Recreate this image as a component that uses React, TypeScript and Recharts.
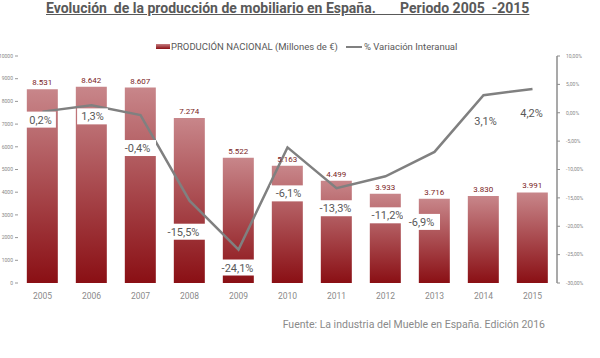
import {
  Bar,
  ComposedChart,
  LabelList,
  Line,
  XAxis,
  YAxis,
} from "recharts";

const years = [
  "2005", "2006", "2007", "2008", "2009", "2010",
  "2011", "2012", "2013", "2014", "2015",
];
const production = [8531, 8642, 8607, 7274, 5522, 5163, 4499, 3933, 3716, 3830, 3991];
const variation = [0.2, 1.3, -0.4, -15.5, -24.1, -6.1, -13.3, -11.2, -6.9, 3.1, 4.2];
const leftTicks = [0, 1000, 2000, 3000, 4000, 5000, 6000, 7000, 8000, 9000, 10000];
const rightTicks = [-30, -25, -20, -15, -10, -5, 0, 5, 10];

// where Excel put each % label, relative to its point
const pctLabelShift = [
  [-2, 8], [1, 11], [-3, 33], [-6, 31], [-1, 18], [1, 46],
  [-1, 20], [2, 39], [-13, 70], [2, 26], [-1, 24],
];

const data = years.map((year, i) => ({
  year,
  production: production[i],
  variation: variation[i],
}));

const GREY = "#595959";
const FONT = "Roboto, 'Open Sans', sans-serif";

const fmtThousands = (v: number) =>
  String(v).replace(/\B(?=(\d{3})+(?!\d))/g, ".");
const fmtPct = (v: number) => `${v.toFixed(1).replace(".", ",")}%`;

function PctLabel(props: any) {
  const { x, y, value, index } = props;
  const [dx, dy] = pctLabelShift[index] || [0, 0];
  const text = fmtPct(value);
  const w = text.length * 6.2 + 6;
  const cx = x + dx;
  const cy = y + dy;
  return (
    <g>
      <rect x={cx - w / 2} y={cy - 8} width={w} height={16} fill="#fff" />
      <text
        x={cx}
        y={cy}
        dy={4}
        textAnchor="middle"
        fontSize={11}
        fill={GREY}
        fontFamily={FONT}
      >
        {text}
      </text>
    </g>
  );
}

export default function App() {
  return (
    <div
      style={{
        position: "relative",
        width: 600,
        height: 358,
        background: "#fff",
        fontFamily: FONT,
        overflow: "hidden",
      }}
    >
      <style>{`body{margin:0}`}</style>

      {/* Title */}
      <div
        style={{
          position: "absolute",
          left: 46,
          top: 0,
          fontSize: 14,
          fontWeight: 700,
          color: GREY,
          textDecoration: "underline",
          whiteSpace: "pre",
        }}
      >
        {"Evolución  de la producción de mobiliario en España.       Periodo 2005  -2015"}
      </div>

      {/* Legend */}
      <div
        style={{
          position: "absolute",
          top: 41,
          left: 156,
          display: "flex",
          alignItems: "center",
          fontSize: 9.5,
          color: GREY,
          whiteSpace: "pre",
        }}
      >
        <span
          style={{
            display: "inline-block",
            width: 14,
            height: 5,
            background: "linear-gradient(#c57d80, #8a0f14)",
            marginRight: 1,
          }}
        />
        <span>PRODUCIÓN NACIONAL (Millones de €)</span>
        <span
          style={{
            display: "inline-block",
            width: 16,
            height: 2,
            background: "#808080",
            marginLeft: 8,
            marginRight: 2,
          }}
        />
        <span>% Variación Interanual</span>
      </div>

      <div style={{ position: "absolute", left: 0, top: 0 }}>
        <ComposedChart
          width={600}
          height={358}
          data={data}
          margin={{ top: 56, right: 0, bottom: 55, left: 0 }}
          barCategoryGap="18%"
        >
          <defs>
            <linearGradient id="barGrad" x1="0" y1="0" x2="0" y2="1">
              <stop offset="0%" stopColor="#c8868a" />
              <stop offset="100%" stopColor="#8a0f14" />
            </linearGradient>
          </defs>
          <XAxis
            dataKey="year"
            height={20}
            axisLine={false}
            tickLine={false}
            tickMargin={4}
            interval={0}
            tick={{ fontSize: 8.5, fill: "#8a8a8a", fontFamily: FONT }}
          />
          <YAxis
            yAxisId="left"
            width={18}
            domain={[0, 10000]}
            ticks={leftTicks}
            interval={0}
            axisLine={false}
            tickSize={3}
            tickMargin={2}
            tickLine={{ stroke: "#999" }}
            tick={{ fontSize: 5, fill: "#888", fontFamily: FONT }}
          />
          <YAxis
            yAxisId="right"
            orientation="right"
            width={43}
            domain={[-30, 10]}
            ticks={rightTicks}
            interval={0}
            axisLine={{ stroke: "#8c8c8c", strokeWidth: 1.5 }}
            tickSize={3}
            tickMargin={6}
            tickLine={{ stroke: "#8c8c8c" }}
            tickFormatter={(v: number) => `${v},00%`}
            tick={{ fontSize: 5, fill: "#888", fontFamily: FONT }}
          />
          <Bar
            yAxisId="left"
            dataKey="production"
            fill="url(#barGrad)"
            isAnimationActive={false}
          >
            <LabelList
              dataKey="production"
              position="top"
              offset={4}
              formatter={(v: any) => fmtThousands(Number(v))}
              style={{ fontSize: 8, fill: "#7a2424", fontFamily: FONT }}
            />
          </Bar>
          <Line
            yAxisId="right"
            dataKey="variation"
            type="linear"
            stroke="#808080"
            strokeWidth={2.5}
            dot={false}
            isAnimationActive={false}
          >
            <LabelList dataKey="variation" content={<PctLabel />} />
          </Line>
        </ComposedChart>
      </div>

      {/* Source */}
      <div
        style={{
          position: "absolute",
          top: 318,
          right: 55,
          fontSize: 10.5,
          color: "#8a8a8a",
          whiteSpace: "pre",
        }}
      >
        Fuente: La industria del Mueble en España. Edición 2016
      </div>
    </div>
  );
}
